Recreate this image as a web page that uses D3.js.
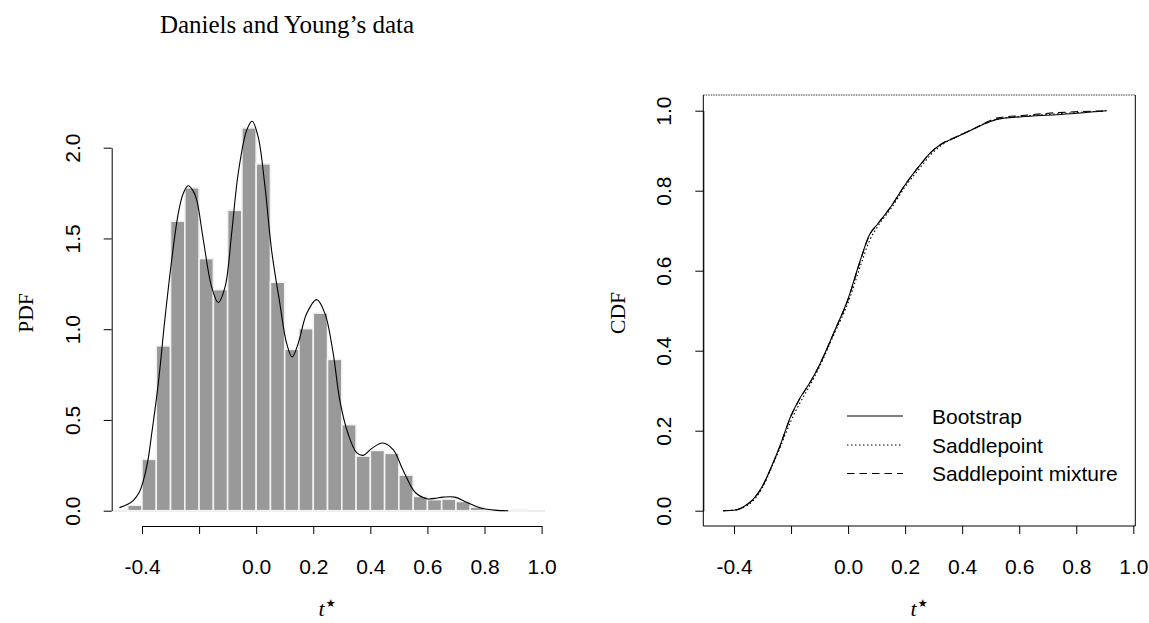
<!DOCTYPE html>
<html><head><meta charset="utf-8">
<script src="https://cdn.jsdelivr.net/npm/d3@7"></script>
<style>
html,body{margin:0;padding:0;background:#fff;}
svg{display:block;}
</style></head>
<body>
<svg id="chart" width="1149" height="623"></svg>
<script>
// ---------- data ----------
const histBreaks = [-0.45,-0.40,-0.35,-0.30,-0.25,-0.20,-0.15,-0.10,-0.05,0.00,0.05,0.10,0.15,0.20,0.25,0.30,0.35,0.40,0.45,0.50,0.55,0.60,0.65,0.70,0.75,0.80,0.85,0.90,0.95];
const histDensity = [0.03,0.283,0.908,1.595,1.779,1.389,1.218,1.655,2.109,1.911,1.259,0.889,1.003,1.089,0.834,0.474,0.301,0.332,0.316,0.196,0.079,0.061,0.064,0.051,0.02,0.006,0,0.006];

const densT = [-0.479,-0.45,-0.43,-0.41,-0.395,-0.38,-0.366,-0.343,-0.319,-0.296,-0.273,-0.255,-0.238,-0.222,-0.208,-0.185,-0.156,-0.133,-0.109,-0.086,-0.063,-0.033,-0.014,0.007,0.031,0.054,0.083,0.107,0.126,0.147,0.177,0.212,0.241,0.27,0.293,0.322,0.352,0.375,0.404,0.443,0.48,0.515,0.556,0.597,0.625,0.655,0.696,0.737,0.784,0.842,0.883];
const densV = [0.017,0.035,0.057,0.10,0.167,0.27,0.424,0.70,1.067,1.38,1.637,1.75,1.79,1.765,1.71,1.49,1.233,1.147,1.233,1.527,1.858,2.097,2.146,2.06,1.784,1.435,1.141,0.92,0.847,0.92,1.086,1.163,1.086,0.865,0.608,0.424,0.32,0.305,0.342,0.373,0.336,0.222,0.103,0.066,0.068,0.075,0.075,0.047,0.016,0.002,0.0];

const cdfT = [-0.4375,-0.40,-0.35,-0.33,-0.30,-0.27,-0.24,-0.20,-0.17,-0.13,-0.10,-0.05,0.00,0.04,0.075,0.105,0.15,0.20,0.25,0.29,0.33,0.38,0.44,0.485,0.525,0.61,0.73,0.906];
const cdfBootstrap = [0,0.001,0.018,0.031,0.062,0.108,0.160,0.238,0.280,0.325,0.365,0.445,0.530,0.620,0.690,0.718,0.760,0.815,0.862,0.896,0.918,0.934,0.954,0.969,0.979,0.985,0.990,1.0];
const cdfSaddle = [0,0.002,0.015,0.027,0.058,0.105,0.155,0.225,0.268,0.318,0.360,0.440,0.520,0.605,0.675,0.712,0.755,0.810,0.855,0.890,0.915,0.935,0.955,0.970,0.979,0.986,0.992,1.0];
const cdfMixture = [0,0.001,0.017,0.030,0.061,0.107,0.159,0.236,0.279,0.324,0.364,0.445,0.528,0.618,0.689,0.718,0.760,0.815,0.862,0.896,0.918,0.935,0.955,0.971,0.982,0.988,0.995,0.9995];

const xTicks = [-0.4,-0.2,0.0,0.2,0.4,0.6,0.8,1.0];
const xTickLabels = ["-0.4","","0.0","0.2","0.4","0.6","0.8","1.0"];
const yTicksPDF = [0,0.5,1.0,1.5,2.0];
const yTickLabelsPDF = ["0.0","0.5","1.0","1.5","2.0"];
const yTicksCDF = [0,0.2,0.4,0.6,0.8,1.0];
const yTickLabelsCDF = ["0.0","0.2","0.4","0.6","0.8","1.0"];
const legendLabels = ["Bootstrap","Saddlepoint","Saddlepoint mixture"];
const titleText = "Daniels and Young\u2019s data";

// ---------- layout ----------
const svg = d3.select("#chart");
const SANS = "'Liberation Sans', Arial, Helvetica, sans-serif";
const SERIF = "'Liberation Serif', 'Times New Roman', serif";
const FS = 21;

const xL = d3.scaleLinear().domain([-0.4,1.0]).range([142,541.6]);
const yL = d3.scaleLinear().domain([0,2]).range([510.7,147.7]);
const xR = d3.scaleLinear().domain([-0.4,1.0]).range([734,1133.3]);
const yR = d3.scaleLinear().domain([0,1]).range([510.7,110.7]);
const axisY = 526;

// title
svg.append("text").attr("x",287).attr("y",33).attr("text-anchor","middle")
  .style("font-family",SERIF).style("font-size","25px").text(titleText);

// ---------- left: histogram ----------
const gL = svg.append("g");
gL.append("line").attr("x1",113).attr("x2",545).attr("y1",511).attr("y2",511)
  .attr("stroke","#dcdcdc").attr("stroke-width",1.2);

gL.selectAll("rect.bar").data(histDensity).join("rect").attr("class","bar")
  .attr("x",(d,i)=>xL(histBreaks[i]))
  .attr("width",(d,i)=>xL(histBreaks[i+1])-xL(histBreaks[i]))
  .attr("y",d=>yL(d))
  .attr("height",d=>yL(0)-yL(d))
  .attr("fill","#999999").attr("stroke","#f2f2f2").attr("stroke-width",1.6);

const densPts = densT.map((t,i)=>[t,densV[i]]);
gL.append("path").datum(densPts)
  .attr("d", d3.line().x(d=>xL(d[0])).y(d=>yL(d[1])).curve(d3.curveCatmullRom.alpha(0.5)))
  .attr("fill","none").attr("stroke","#000").attr("stroke-width",1.1);

function styleXAxis(g){
  g.select(".domain").attr("stroke","#000").attr("stroke-width",1);
  g.selectAll(".tick line").attr("stroke","#000");
  g.selectAll(".tick text").attr("y",48).attr("dy",0)
    .style("font-family",SANS).style("font-size",FS+"px").attr("fill","#000");
}
function styleYAxis(g){
  g.select(".domain").attr("stroke","#000").attr("stroke-width",1);
  g.selectAll(".tick line").attr("stroke","#000");
  g.selectAll(".tick text").attr("x",0).attr("y",0).attr("dy",0)
    .attr("text-anchor","middle").attr("transform","translate(-32,0) rotate(-90)")
    .style("font-family",SANS).style("font-size",FS+"px").attr("fill","#000");
}

const axL = d3.axisBottom(xL).tickValues(xTicks).tickSize(8).tickSizeOuter(0)
  .tickFormat((d,i)=>xTickLabels[i]);
gL.append("g").attr("transform",`translate(0,${axisY})`).call(axL).call(styleXAxis);

const ayL = d3.axisLeft(yL).tickValues(yTicksPDF).tickSize(8).tickSizeOuter(0)
  .tickFormat((d,i)=>yTickLabelsPDF[i]);
gL.append("g").attr("transform","translate(111.7,0)").call(ayL).call(styleYAxis);

gL.append("text").attr("transform","translate(33,313) rotate(-90)").attr("text-anchor","middle")
  .style("font-family",SERIF).style("font-size","21.5px").text("PDF");

function tStar(g, cx){
  const t = g.append("text").attr("x",cx).attr("y",616).attr("text-anchor","middle")
    .style("font-family",SERIF).style("font-size","22px");
  t.append("tspan").style("font-style","italic").text("t");
  t.append("tspan").attr("dy",-9).attr("dx",1).style("font-family","'DejaVu Sans', sans-serif")
    .style("font-size","11px").text("\u2605");
}
tStar(gL, 327);

// ---------- right: CDF ----------
const gR = svg.append("g");
const bx0=703.3, bx1=1135.3, by0=95, by1=526;
gR.append("line").attr("x1",bx0).attr("x2",bx1).attr("y1",by0).attr("y2",by0)
  .attr("stroke","#333").attr("stroke-width",1).attr("stroke-dasharray","1.5,1");
gR.append("line").attr("x1",bx1).attr("x2",bx1).attr("y1",by0).attr("y2",by1).attr("stroke","#000");
gR.append("line").attr("x1",bx0).attr("x2",bx1).attr("y1",by1).attr("y2",by1).attr("stroke","#000");
gR.append("line").attr("x1",bx0).attr("x2",bx0).attr("y1",by0).attr("y2",by1).attr("stroke","#000");

const axR = d3.axisBottom(xR).tickValues(xTicks).tickSize(8).tickSizeOuter(0)
  .tickFormat((d,i)=>xTickLabels[i]);
gR.append("g").attr("transform",`translate(0,${axisY})`).call(axR).call(styleXAxis)
  .select(".domain").attr("stroke","none");

const ayR = d3.axisLeft(yR).tickValues(yTicksCDF).tickSize(8).tickSizeOuter(0)
  .tickFormat((d,i)=>yTickLabelsCDF[i]);
gR.append("g").attr("transform",`translate(${bx0},0)`).call(ayR).call(styleYAxis);

const cdfLine = d3.line().x(d=>xR(d[0])).y(d=>yR(d[1])).curve(d3.curveMonotoneX);
const series = [
  {vals: cdfBootstrap, dash: null},
  {vals: cdfSaddle, dash: "1.5,2.5"},
  {vals: cdfMixture, dash: "7.5,5"}
];
series.forEach(s=>{
  gR.append("path").datum(cdfT.map((t,i)=>[t,s.vals[i]]))
    .attr("d",cdfLine).attr("fill","none").attr("stroke","#000").attr("stroke-width",1.1)
    .attr("stroke-dasharray",s.dash);
});

// legend
const legY = [416,445,473.5];
legendLabels.forEach((lab,i)=>{
  gR.append("line").attr("x1",847).attr("x2",903).attr("y1",legY[i]).attr("y2",legY[i])
    .attr("stroke","#000").attr("stroke-width",1.1).attr("stroke-dasharray",series[i].dash);
  gR.append("text").attr("x",932).attr("y",legY[i]+7.5)
    .style("font-family",SANS).style("font-size",FS+"px").text(lab);
});

gR.append("text").attr("transform","translate(625,313) rotate(-90)").attr("text-anchor","middle")
  .style("font-family",SERIF).style("font-size","21.5px").text("CDF");
tStar(gR, 919);
</script>
</body></html>
